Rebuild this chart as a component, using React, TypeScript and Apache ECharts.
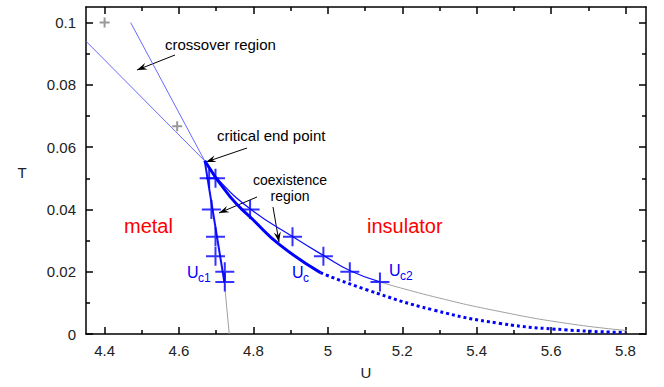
import React, { useEffect, useRef } from "react";
import * as echarts from "echarts";

const xMajorTicks = [4.4, 4.6, 4.8, 5, 5.2, 5.4, 5.6, 5.8];
const xMinorTicks = [4.5, 4.7, 4.9, 5.1, 5.3, 5.5, 5.7];
const yMajorTicks = [0, 0.02, 0.04, 0.06, 0.08, 0.1];
const yMinorTicks = [0.01, 0.03, 0.05, 0.07, 0.09];

const crossoverA = [[4.351, 0.0939], [4.59, 0.0651], [4.669, 0.0556]];
const crossoverB = [[4.47, 0.1], [4.669, 0.0556]];
const uc1Line = [[4.669, 0.0556], [4.722, 0.0165]];
const uc1Extension = [[4.722, 0.0165], [4.735, 0]];
const uc2Line = [[4.669, 0.0556], [4.7, 0.0503], [4.79, 0.0403], [4.905, 0.0313], [4.99, 0.0251], [5.06, 0.0203], [5.14, 0.0167]];
const uc2Extension = [[5.14, 0.0167], [5.284, 0.012], [5.463, 0.0072], [5.643, 0.0034], [5.804, 0.0011]];
const ucSolid = [[4.669, 0.0556], [4.737, 0.0441], [4.799, 0.0367], [4.871, 0.0286], [4.98, 0.0197]];
const ucDotted = [[4.98, 0.0197], [5.104, 0.0142], [5.284, 0.0077], [5.463, 0.0034], [5.643, 0.0013], [5.8, 0.0005]];
const uc1Points = [[4.681, 0.05], [4.687, 0.04], [4.698, 0.03125], [4.698, 0.025], [4.723, 0.02], [4.723, 0.01667]];
const uc2Points = [[4.698, 0.05], [4.791, 0.04], [4.905, 0.03125], [4.988, 0.025], [5.059, 0.02], [5.14, 0.01667]];
const grayPoints = [[4.4, 0.1], [4.595, 0.0667]];

const FONT = "Liberation Sans, Arial, sans-serif";
const CROSS = "path://M0,10 L20,10 M10,0 L10,20";

function arrow(x1: number, y1: number, x2: number, y2: number) {
  const ang = Math.atan2(y2 - y1, x2 - x1);
  const L = 10, W = 3.5;
  const bx = x2 - L * Math.cos(ang), by = y2 - L * Math.sin(ang);
  const px = -Math.sin(ang) * W, py = Math.cos(ang) * W;
  return [
    { type: "line", shape: { x1, y1, x2, y2 }, style: { stroke: "#000", lineWidth: 1 } },
    {
      type: "polygon",
      shape: { points: [[x2, y2], [bx + px, by + py], [bx + 0.35 * (x2 - bx), by + 0.35 * (y2 - by)], [bx - px, by - py]] },
      style: { fill: "#000" },
    },
  ];
}

function txt(x: number, y: number, text: string, size: number, fill: string, align = "left") {
  return {
    type: "text",
    x,
    y,
    style: { text, fontSize: size, fill, fontFamily: FONT, align, verticalAlign: "middle" },
  };
}

export default function App() {
  const ref = useRef<HTMLDivElement>(null);
  useEffect(() => {
    document.body.style.margin = "0";
    const chart = echarts.init(ref.current!, undefined, { renderer: "svg" });
    const axisCommon = { min: 4.35, max: 5.855, splitLine: { show: false }, type: "value" as const };
    const yCommon = { min: 0, max: 0.105, splitLine: { show: false }, type: "value" as const };
    const lineSeries = (data: number[][], color: string, width: number, extra: any = {}) => ({
      type: "line",
      data,
      symbol: "none",
      lineStyle: { color, width, ...(extra.lineStyle || {}) },
      smooth: extra.smooth ?? false,
      z: extra.z ?? 2,
      silent: true,
    });
    const tickStyle = { color: "#000", width: 1.5 };
    chart.setOption({
      animation: false,
      grid: { left: 86, right: 18, top: 7, bottom: 53 },
      xAxis: [
        {
          ...axisCommon,
          position: "bottom",
          axisLine: { show: true, onZero: false, lineStyle: tickStyle },
          axisTick: { show: true, inside: true, length: 7, customValues: xMajorTicks, lineStyle: tickStyle },
          axisLabel: { show: true, customValues: xMajorTicks, margin: 9, fontSize: 15, color: "#222", fontFamily: FONT, formatter: (v: number) => String(Math.round(v * 10) / 10) },
        },
        {
          ...axisCommon,
          position: "bottom",
          axisLine: { show: false, onZero: false },
          axisTick: { show: true, inside: true, length: 4, customValues: xMinorTicks, lineStyle: tickStyle },
          axisLabel: { show: false },
        },
        {
          ...axisCommon,
          position: "top",
          axisLine: { show: true, onZero: false, lineStyle: tickStyle },
          axisTick: { show: true, inside: true, length: 7, customValues: xMajorTicks, lineStyle: tickStyle },
          axisLabel: { show: false },
        },
        {
          ...axisCommon,
          position: "top",
          axisLine: { show: false, onZero: false },
          axisTick: { show: true, inside: true, length: 4, customValues: xMinorTicks, lineStyle: tickStyle },
          axisLabel: { show: false },
        },
      ],
      yAxis: [
        {
          ...yCommon,
          position: "left",
          axisLine: { show: true, onZero: false, lineStyle: tickStyle },
          axisTick: { show: true, inside: true, length: 7, customValues: yMajorTicks, lineStyle: tickStyle },
          axisLabel: { show: true, customValues: yMajorTicks, margin: 10, fontSize: 15, color: "#222", fontFamily: FONT, formatter: (v: number) => String(Math.round(v * 100) / 100) },
        },
        {
          ...yCommon,
          position: "left",
          axisLine: { show: false, onZero: false },
          axisTick: { show: true, inside: true, length: 4, customValues: yMinorTicks, lineStyle: tickStyle },
          axisLabel: { show: false },
        },
        {
          ...yCommon,
          position: "right",
          axisLine: { show: true, onZero: false, lineStyle: tickStyle },
          axisTick: { show: true, inside: true, length: 7, customValues: yMajorTicks, lineStyle: tickStyle },
          axisLabel: { show: false },
        },
        {
          ...yCommon,
          position: "right",
          axisLine: { show: false, onZero: false },
          axisTick: { show: true, inside: true, length: 4, customValues: yMinorTicks, lineStyle: tickStyle },
          axisLabel: { show: false },
        },
      ],
      series: [
        lineSeries(crossoverA, "#6a6aff", 1),
        lineSeries(crossoverB, "#6a6aff", 1),
        lineSeries(uc1Extension, "#a0a0a0", 1),
        lineSeries(uc2Extension, "#a0a0a0", 1, { smooth: true }),
        lineSeries(uc1Line, "#1010ff", 2),
        lineSeries(uc2Line, "#1010ff", 1.3, { smooth: true }),
        lineSeries(ucSolid, "#0000ff", 3, { smooth: true }),
        lineSeries(ucDotted, "#0000ff", 3, { smooth: true, lineStyle: { type: [3, 3] } }),
        {
          type: "scatter",
          data: uc1Points.concat(uc2Points),
          symbol: CROSS,
          symbolSize: 19,
          itemStyle: { color: "none", borderColor: "#0000ff", borderWidth: 2 },
          z: 5,
          silent: true,
        },
        {
          type: "scatter",
          data: grayPoints,
          symbol: CROSS,
          symbolSize: 10,
          itemStyle: { color: "none", borderColor: "#808080", borderWidth: 2 },
          z: 5,
          silent: true,
        },
      ],
      graphic: [
        txt(22, 172, "T", 15, "#222", "center"),
        txt(366, 372, "U", 15, "#222", "center"),
        txt(165, 44, "crossover region", 15, "#000"),
        txt(217, 135, "critical end point", 15, "#000"),
        txt(290, 179.5, "coexistence", 14, "#000", "center"),
        txt(290, 195.5, "region", 14, "#000", "center"),
        txt(124, 226, "metal", 20, "#ff0000"),
        txt(367, 226, "insulator", 20, "#ff0000"),
        txt(187, 272, "U", 16, "#0000ff"),
        txt(198, 278, "c1", 12, "#0000ff"),
        txt(292, 272, "U", 16, "#0000ff"),
        txt(303, 278, "c", 12, "#0000ff"),
        txt(389, 270, "U", 16, "#0000ff"),
        txt(400, 276, "c2", 12, "#0000ff"),
        ...arrow(175, 55, 137, 70),
        ...arrow(247, 148, 206, 162),
        ...arrow(257, 197, 219, 213),
        ...arrow(273, 207, 279, 242),
      ],
    });
    return () => chart.dispose();
  }, []);
  return <div ref={ref} style={{ width: 664, height: 387 }} />;
}
